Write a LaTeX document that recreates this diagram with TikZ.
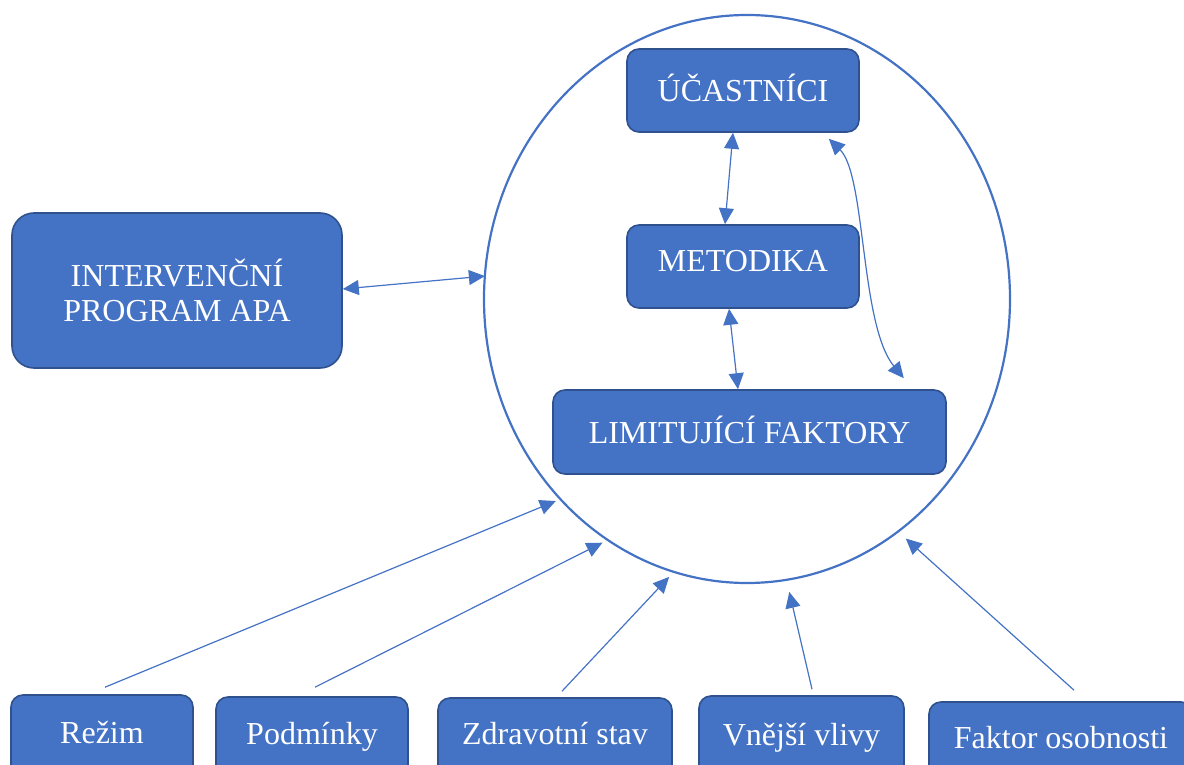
\documentclass[tikz,border=0pt]{standalone}
\usepackage{fontspec}
\setmainfont{Liberation Serif}
\usetikzlibrary{arrows.meta,shapes.geometric}
\definecolor{bfill}{HTML}{4472C4}
\definecolor{bdraw}{HTML}{2F528F}
\begin{document}
\begin{tikzpicture}[x=1pt,y=-1pt,
  basebox/.style={draw=bdraw, line width=1.6pt, fill=bfill, rounded corners=12pt,
    text=white, font=\fontsize{32}{35}\selectfont, inner sep=0pt, align=center},
  box/.style={basebox, text height=22pt, text depth=0pt},
  conn/.style={draw=bfill, line width=1.2pt, -{Triangle[length=16pt,width=15pt]}},
  bconn/.style={draw=bfill, line width=1.2pt, {Triangle[length=16pt,width=15pt]}-{Triangle[length=16pt,width=15pt]}}]
\useasboundingbox (0,0) rectangle (1184,765);
\clip (0,0) rectangle (1184,765);
% big ellipse
\node[draw=bfill, line width=2.2pt, ellipse, minimum width=526pt, minimum height=568pt,
  inner sep=0pt, outer sep=0pt] (e) at (747,299) {};
% inner boxes
\node[box, minimum width=232pt, minimum height=83pt] (u) at (743,90.5) {ÚČASTNÍCI};
\node[box, minimum width=232pt, minimum height=83pt, text depth=12pt] (m) at (743,266.5) {METODIKA};
\node[box, minimum width=393pt, minimum height=84pt] (l) at (749.5,432) {LIMITUJÍCÍ FAKTORY};
% left box
\node[basebox, minimum width=330pt, minimum height=155pt, rounded corners=22pt] (i) at (177,290.5) {INTERVENČNÍ\\PROGRAM APA};
% bottom boxes
\node[box, minimum width=182pt, minimum height=105pt, text depth=31pt] (r) at (102,747.5) {Režim};
\node[box, minimum width=192pt, minimum height=103pt, text depth=31pt] (p) at (312,748.5) {Podmínky};
\node[box, minimum width=234pt, minimum height=102pt, text depth=32pt] (z) at (555,749) {Zdravotní stav};
\node[box, minimum width=205pt, minimum height=104pt, text depth=28pt] (v) at (801.5,748) {Vnější vlivy};
\node[box, minimum width=264pt, minimum height=98pt, text depth=28pt] (f) at (1061,751) {Faktor osobnosti};
% connectors inside
\draw[bconn] ([xshift=-10pt]u.south) -- ([xshift=-18pt]m.north);
\draw[bconn] ([xshift=-14pt]m.south) -- ([xshift=-11.5pt]l.north);
\draw[bconn] ([shift={(-31pt,-6pt)}]u.south east) .. controls (866,175) and (860,325) .. ([shift={(-43pt,11pt)}]l.north east);
\draw[bconn] ([yshift=1.5pt]i.east) -- (e.175.9);
% bottom connectors
\draw[conn, shorten >=5pt] ([shift={(3pt,7pt)}]r.north) -- (e.227.7);
\draw[conn, shorten >=6pt] ([shift={(3pt,9pt)}]p.north) -- (e.240.0);
\draw[conn, shorten >=7pt] ([shift={(7pt,6pt)}]z.north) -- (e.255.4);
\draw[conn, shorten >=12.5pt] ([shift={(10.5pt,6pt)}]v.north) -- (e.278.9);
\draw[conn, shorten >=10.5pt] ([shift={(13pt,11pt)}]f.north) -- (e.303.2);
\end{tikzpicture}
\end{document}
